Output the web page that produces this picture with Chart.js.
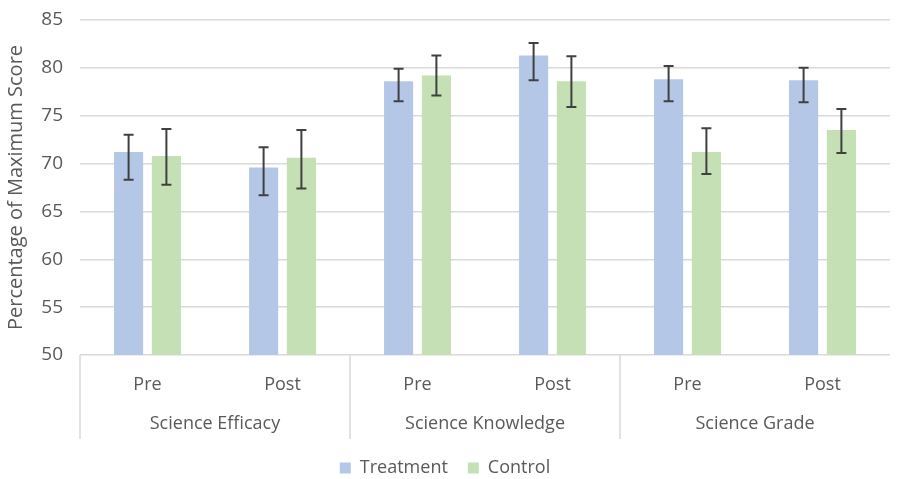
<!DOCTYPE html>
<html>
<head>
<meta charset="utf-8">
<script src="https://cdn.jsdelivr.net/npm/chart.js@4"></script>
<style>
  html, body { margin: 0; padding: 0; background: #fff; }
  #wrap { width: 900px; height: 479px; }
</style>
</head>
<body>
<div id="wrap"><canvas id="chart"></canvas></div>
<script>
// values
const phases = ['Pre', 'Post', 'Pre', 'Post', 'Pre', 'Post'];
const groups = ['Science Efficacy', 'Science Knowledge', 'Science Grade'];
const treatment = [71.2, 69.6, 78.6, 81.3, 78.8, 78.7];
const control = [70.8, 70.6, 79.2, 78.6, 71.2, 73.5];
// error bar ends (high / low)
const treatmentHigh = [73.0, 71.7, 79.9, 82.6, 80.2, 80.0];
const treatmentLow = [68.3, 66.7, 76.5, 78.7, 76.5, 76.4];
const controlHigh = [73.6, 73.5, 81.3, 81.2, 73.7, 75.7];
const controlLow = [67.8, 67.4, 77.1, 75.9, 68.9, 71.1];
const yTicks = [50, 55, 60, 65, 70, 75, 80, 85];

const textColor = '#595959';
const gridColor = '#d9d9d9';
const fontFamily = '"Open Sans", sans-serif';

// draws the error bars from the y scale
const errorBars = {
  id: 'errorBars',
  afterDatasetsDraw(chart) {
    const ctx = chart.ctx;
    const y = chart.scales.y;
    ctx.save();
    ctx.strokeStyle = '#404040';
    ctx.lineWidth = 2;
    chart.data.datasets.forEach((ds, di) => {
      const meta = chart.getDatasetMeta(di);
      meta.data.forEach((bar, i) => {
        const top = y.getPixelForValue(ds.errHigh[i]);
        const bot = y.getPixelForValue(ds.errLow[i]);
        ctx.beginPath();
        ctx.moveTo(bar.x, top); ctx.lineTo(bar.x, bot);
        ctx.moveTo(bar.x - 5, top); ctx.lineTo(bar.x + 5, top);
        ctx.moveTo(bar.x - 5, bot); ctx.lineTo(bar.x + 5, bot);
        ctx.stroke();
      });
    });
    ctx.restore();
  }
};

// second row of the category axis: group names and dividers
const groupAxis = {
  id: 'groupAxis',
  afterDraw(chart) {
    const ctx = chart.ctx;
    const x = chart.scales.x;
    const area = chart.chartArea;
    const per = phases.length / groups.length;
    const step = x.width / phases.length;
    ctx.save();
    ctx.strokeStyle = gridColor;
    ctx.lineWidth = 1.5;
    ctx.fillStyle = textColor;
    ctx.font = '18px ' + fontFamily;
    ctx.textAlign = 'center';
    ctx.textBaseline = 'middle';
    groups.forEach((g, gi) => {
      const first = x.getPixelForTick(gi * per);
      const last = x.getPixelForTick(gi * per + per - 1);
      const left = first - step / 2;
      ctx.beginPath();
      ctx.moveTo(left, area.bottom);
      ctx.lineTo(left, area.bottom + 84);
      ctx.stroke();
      ctx.fillText(g, (first + last) / 2, area.bottom + 69);
    });
    ctx.restore();
  }
};

new Chart(document.getElementById('chart'), {
  type: 'bar',
  data: {
    labels: phases,
    datasets: [
      { label: 'Treatment', data: treatment, errHigh: treatmentHigh, errLow: treatmentLow,
        backgroundColor: '#b4c7e7', categoryPercentage: 0.56, barPercentage: 0.77 },
      { label: 'Control', data: control, errHigh: controlHigh, errLow: controlLow,
        backgroundColor: '#c5e0b4', categoryPercentage: 0.56, barPercentage: 0.77 }
    ]
  },
  options: {
    responsive: true,
    maintainAspectRatio: false,
    animation: false,
    layout: { padding: { top: 20, right: 10, left: 0, bottom: -8 } },
    plugins: {
      tooltip: { enabled: false },
      legend: {
        position: 'bottom',
        labels: {
          color: textColor,
          font: { family: fontFamily, size: 18 },
          boxWidth: 11, boxHeight: 11, padding: 20
        }
      }
    },
    scales: {
      x: {
        grid: { display: false, drawTicks: false },
        border: { display: false },
        ticks: { color: textColor, font: { family: fontFamily, size: 18 }, padding: 19, maxRotation: 0 },
        afterFit(scale) { scale.height = 84; }
      },
      y: {
        min: 50, max: 85,
        afterBuildTicks(scale) { scale.ticks = yTicks.map(v => ({ value: v })); },
        grid: { color: gridColor, lineWidth: 1.5, drawTicks: false },
        border: { display: false },
        ticks: { color: textColor, font: { family: fontFamily, size: 19 }, padding: 17 },
        title: { display: true, text: 'Percentage of Maximum Score', color: textColor,
                 font: { family: fontFamily, size: 20 }, padding: 4 },
        afterFit(scale) { scale.width = 80; scale.paddingTop = 0; scale.paddingBottom = 0; }
      }
    }
  },
  plugins: [errorBars, groupAxis]
});
</script>
</body>
</html>
